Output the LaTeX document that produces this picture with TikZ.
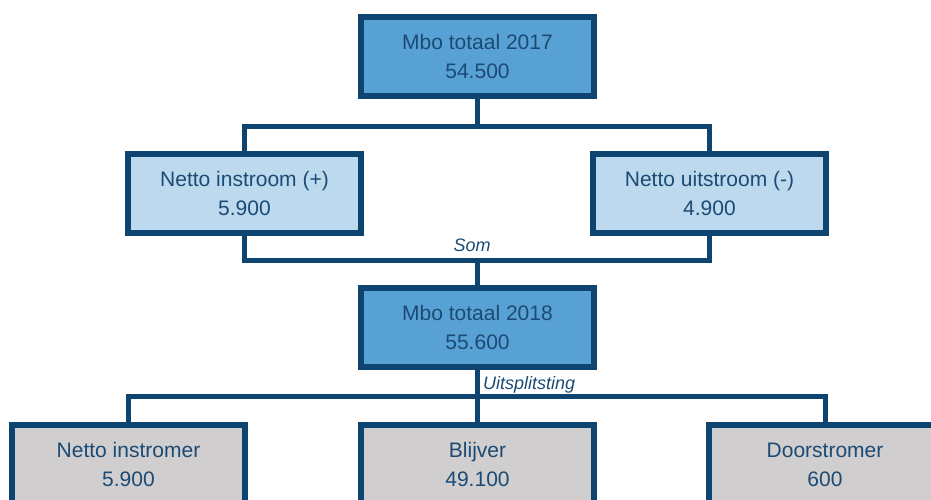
\documentclass[tikz,border=0pt]{standalone}
\usepackage{fontspec}
\setmainfont{Liberation Sans}
\usepackage{tikz}
\usetikzlibrary{positioning}

\definecolor{edgeblue}{HTML}{0E4470}
\definecolor{textblue}{HTML}{1B4B74}
\definecolor{darkfill}{HTML}{58A1D4}
\definecolor{lightfill}{HTML}{BDD9EE}
\definecolor{greyfill}{HTML}{D0CECE}

\begin{document}
\begin{tikzpicture}[
    x=1pt, y=-1pt,
    box/.style={rectangle, draw=edgeblue, line width=6pt, text=textblue,
      minimum width=233pt, minimum height=79pt, align=center,
      font=\fontsize{21}{29}\selectfont},
    conn/.style={draw=edgeblue, line width=5pt},
    note/.style={text=textblue, font=\fontsize{18}{20}\selectfont\itshape, inner sep=0pt},
  ]
  \useasboundingbox (0,0) rectangle (931,499);
  \clip (0,0) rectangle (931,499);

  % Split points
  \coordinate (splitA) at (477.5,126);
  \coordinate (joinB) at (477.5,260);
  \coordinate (splitC) at (477.5,396);

  % Boxes
  \node[box, fill=darkfill] (total17) at (477.5,56.5) {Mbo totaal 2017\\54.500};
  \node[box, fill=lightfill] (instroom) at (244.5,193) {Netto instroom (+)\\5.900};
  \node[box, fill=lightfill] (uitstroom) at (709.5,193) {Netto uitstroom (-)\\4.900};
  \node[box, fill=darkfill] (total18) at (477.5,327.5) {Mbo totaal 2018\\55.600};
  \node[box, fill=greyfill] (instromer) at (128.5,464.5) {Netto instromer\\5.900};
  \node[box, fill=greyfill] (blijver) at (477.5,464.5) {Blijver\\49.100};
  \node[box, fill=greyfill] (doorstromer) at (825,464.5) {Doorstromer\\600};

  % Connectors
  \draw[conn] (total17.south) -- (splitA);
  \draw[conn] (instroom.north) |- (splitA) -| (uitstroom.north);
  \draw[conn] (instroom.south) |- (joinB) -| (uitstroom.south);
  \draw[conn] (joinB) -- (total18.north);
  \draw[conn] (total18.south) -- (splitC);
  \draw[conn] (instromer.north) |- (splitC) -| (doorstromer.north);
  \draw[conn] (splitC) -- (blijver.north);

  % Labels
  \node[note, anchor=base] (som) at (472,251) {Som};
  \node[note, anchor=base west] (uitsplitsing) at (483,389) {Uitsplitsting};
\end{tikzpicture}
\end{document}
